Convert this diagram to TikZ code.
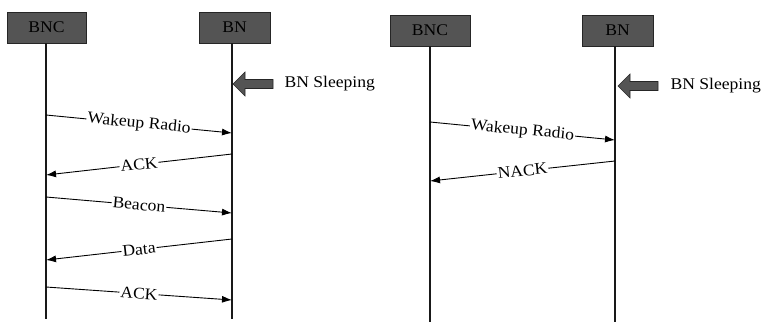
\documentclass[tikz,border=0pt]{standalone}
\usepackage{fontspec}
\setmainfont{Liberation Serif}[FakeStretch=1.08]
\usetikzlibrary{arrows.meta}
\begin{document}
\begin{tikzpicture}[x=1pt,y=-1pt,
  font=\fontsize{16.3}{19}\selectfont,
  actor/.style={draw=black!85, line width=0.8pt, fill=black!67, minimum height=31pt, inner sep=0pt},
  life/.style={line width=1.3pt, black!90},
  msg/.style={line width=0.9pt, -{Latex[length=10pt,width=7pt]}},
  lbl/.style={midway, sloped, fill=white, inner sep=1pt},
  sleep/.style={draw=black!85, line width=0.6pt, fill=black!67}]
\useasboundingbox (0,0) rectangle (768,327);
% left panel
\node[actor, minimum width=79pt] (bncA) at (46.5,27.5) {BNC};
\node[actor, minimum width=71pt] (bnA) at (234.5,27.5) {BN};
\coordinate (bncAend) at (46,319);
\coordinate (bnAend) at (232,319);
\draw[life] (bncA.south -| bncAend) -- (bncAend);
\draw[life] (bnA.south -| bnAend) -- (bnAend);
% right panel
\node[actor, minimum width=80pt] (bncB) at (430,30.5) {BNC};
\node[actor, minimum width=71pt] (bnB) at (617.5,30.5) {BN};
\coordinate (bncBend) at (430,322);
\coordinate (bnBend) at (615,322);
\draw[life] (bncB.south -| bncBend) -- (bncBend);
\draw[life] (bnB.south -| bnBend) -- (bnBend);
% sleeping arrows
\coordinate (tipA) at (233,84);
\draw[sleep] (tipA) -- ++(12,-12) -- ++(0,7.5) -- ++(28,0) -- ++(0,9) -- ++(-28,0) -- ++(0,7.5) -- cycle;
\node[anchor=west] (slA) at (281,84) {BN Sleeping};
\coordinate (tipB) at (618,86);
\draw[sleep] (tipB) -- ++(12,-12) -- ++(0,7.5) -- ++(28,0) -- ++(0,9) -- ++(-28,0) -- ++(0,7.5) -- cycle;
\node[anchor=west] (slB) at (667,86) {BN Sleeping};
% left messages
\coordinate (a1) at (46,115); \coordinate (b1) at (232,133);
\coordinate (b2) at (232,154); \coordinate (a2) at (46,175);
\coordinate (a3) at (46,197); \coordinate (b3) at (232,213);
\coordinate (b4) at (232,239); \coordinate (a4) at (46,260);
\coordinate (a5) at (46,287); \coordinate (b5) at (232,300);
\draw[msg] (a1) -- node[lbl] {Wakeup Radio} (b1);
\draw[msg] (b2) -- node[lbl] {ACK} (a2);
\draw[msg] (a3) -- node[lbl] {Beacon} (b3);
\draw[msg] (b4) -- node[lbl] {Data} (a4);
\draw[msg] (a5) -- node[lbl] {ACK} (b5);
% right messages
\coordinate (c1) at (430,122); \coordinate (d1) at (615,140);
\coordinate (d2) at (615,161); \coordinate (c2) at (430,181);
\draw[msg] (c1) -- node[lbl] {Wakeup Radio} (d1);
\draw[msg] (d2) -- node[lbl] {NACK} (c2);
\end{tikzpicture}
\end{document}
